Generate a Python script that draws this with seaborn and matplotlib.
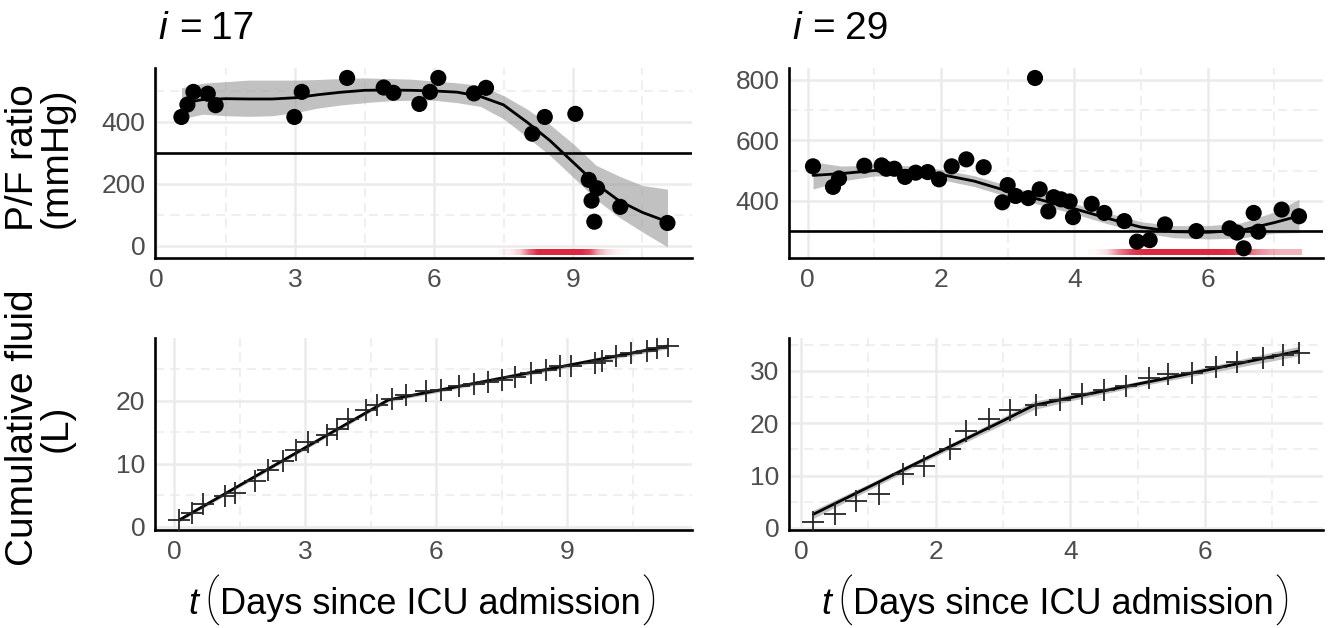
import numpy as np
import pandas as pd
import matplotlib
matplotlib.use("Agg")
import matplotlib.pyplot as plt
from matplotlib.ticker import MultipleLocator
import matplotlib.colors as mcolors
import seaborn as sns

# ---------------- patient i = 17 ----------------
pf17_t = [0.54, 0.67, 0.80, 1.11, 1.28, 2.98, 3.14, 4.12, 4.91, 5.12, 5.68, 5.91,
          6.09, 6.86, 7.12, 8.12, 8.39, 9.05, 9.34, 9.52, 9.40, 9.46, 10.02, 11.04]
pf17_v = [416, 456, 497, 491, 454, 416, 497, 542, 511, 494, 458, 497,
          542, 492, 510, 362, 416, 426, 213, 186, 146, 78, 126, 74]

fit17_t = [0.54, 1.0, 1.5, 2.0, 2.5, 3.0, 3.5, 4.0, 4.5, 5.0, 5.5, 6.0, 6.5,
           7.0, 7.5, 8.0, 8.5, 9.0, 9.5, 10.0, 10.5, 11.04]
fit17_v = [460, 472, 475, 474, 474, 478, 488, 496, 502, 503, 502, 500, 496,
           482, 455, 400, 340, 270, 200, 145, 108, 78]
fit17_lo = [410, 425, 420, 418, 420, 430, 445, 455, 462, 468, 470, 470, 462,
            450, 410, 352, 292, 222, 150, 92, 45, -3]
fit17_hi = [510, 525, 530, 535, 535, 535, 537, 540, 542, 540, 538, 532, 526,
            518, 485, 442, 392, 330, 260, 225, 195, 183]

red17_t = [7.4, 7.6, 7.8, 8.0, 8.2, 8.4, 8.6, 8.8, 9.0, 9.2, 9.4, 9.6, 9.8, 10.0, 10.2]
red17_a = [0.05, 0.1, 0.25, 0.7, 1, 1, 1, 1, 1, 1, 0.85, 0.4, 0.18, 0.08, 0.03]

fl17_t = [0.12, 0.41, 0.66, 1.16, 1.39, 1.84, 2.14, 2.49, 2.78, 3.07, 3.49, 3.73,
          3.98, 4.40, 4.65, 4.98, 5.31, 5.77, 6.10, 6.51, 6.85, 7.18, 7.51, 7.80,
          8.17, 8.51, 8.84, 9.09, 9.63, 9.79, 10.12, 10.46, 10.83, 11.04, 11.29]
fl17_v = [1.1, 2.2, 3.6, 4.9, 5.4, 7.3, 9.0, 10.5, 12.1, 13.4, 14.5, 15.5,
          17.0, 18.5, 19.3, 20.3, 20.9, 21.5, 21.6, 22.3, 22.6, 23.0, 23.2, 23.8,
          24.3, 24.8, 25.4, 25.5, 25.9, 26.2, 27.0, 27.5, 27.9, 28.3, 28.6]
flfit17_t = [0.12, 4.9, 11.29]
flfit17_v = [1.1, 20.1, 28.6]
flfit17_lo = [0.8, 19.8, 28.2]
flfit17_hi = [1.4, 20.4, 29.0]

# ---------------- patient i = 29 ----------------
pf29_t = [0.08, 0.38, 0.47, 0.85, 1.11, 1.18, 1.30, 1.46, 1.62, 1.80, 1.97, 2.16,
          2.38, 2.64, 2.92, 3.00, 3.12, 3.31, 3.41, 3.48, 3.61, 3.69, 3.80, 3.93,
          3.98, 4.26, 4.45, 4.75, 4.94, 5.13, 5.36, 5.83, 6.33, 6.44, 6.54, 6.69,
          6.76, 7.11, 7.37]
pf29_v = [514, 446, 474, 516, 517, 506, 506, 479, 493, 495, 471, 514,
          537, 511, 395, 452, 416, 409, 806, 438, 365, 412, 405, 398,
          346, 390, 360, 333, 265, 270, 322, 300, 309, 295, 243, 360,
          298, 371, 349]

fit29_t = [0.08, 0.5, 1.0, 1.5, 2.0, 2.5, 3.0, 3.5, 4.0, 4.5, 5.0, 5.5, 6.0, 6.5, 7.0, 7.37]
fit29_v = [484, 490, 500, 500, 487, 465, 432, 403, 374, 342, 313, 298, 296, 302, 328, 350]
fit29_lo = [439, 465, 482, 484, 470, 447, 414, 386, 357, 324, 295, 278, 274, 277, 293, 295]
fit29_hi = [529, 515, 518, 516, 504, 483, 450, 420, 391, 360, 331, 318, 318, 327, 363, 405]

red29_t = [4.2, 4.4, 4.6, 4.8, 5.0, 5.2, 5.4, 5.6, 5.8, 6.0, 6.2, 6.4, 6.6, 6.8, 7.0, 7.2, 7.4]
red29_a = [0.03, 0.15, 0.6, 0.9, 1, 1, 1, 1, 1, 1, 1, 0.95, 0.8, 0.55, 0.4, 0.35, 0.35]

fl29_t = [0.18, 0.51, 0.82, 1.15, 1.52, 1.83, 2.21, 2.45, 2.79, 3.10, 3.49, 3.85,
          4.17, 4.50, 4.82, 5.17, 5.45, 5.81, 6.16, 6.48, 6.86, 7.15, 7.39]
fl29_v = [1.2, 2.7, 5.1, 6.5, 10.3, 11.8, 15.1, 18.5, 20.9, 22.6, 23.5, 24.5,
          25.6, 26.3, 27.1, 28.6, 29.5, 29.7, 30.8, 31.7, 32.5, 33.1, 33.4]
flfit29_t = [0.18, 1.0, 2.0, 3.0, 3.45, 4.0, 5.0, 6.0, 7.39]
flfit29_v = [2.6, 7.8, 14.2, 20.5, 23.4, 24.9, 27.5, 30.1, 33.8]
flfit29_lo = [1.8, 7.2, 13.7, 19.8, 22.6, 24.3, 27.0, 29.5, 32.9]
flfit29_hi = [3.4, 8.4, 14.7, 21.2, 24.2, 25.5, 28.0, 30.7, 34.7]

THRESH = 300
RED = "#DC2840"
GRID = "#EBEBEB"


def style_axis(ax, xmaj, ymaj, xlim, ylim):
    ax.set_xlim(*xlim)
    ax.set_ylim(*ylim)
    ax.xaxis.set_major_locator(MultipleLocator(xmaj))
    ax.xaxis.set_minor_locator(MultipleLocator(xmaj / 2))
    ax.yaxis.set_major_locator(MultipleLocator(ymaj))
    ax.yaxis.set_minor_locator(MultipleLocator(ymaj / 2))
    ax.set_axisbelow(True)
    ax.grid(which="major", color=GRID, lw=1.8)
    ax.grid(which="minor", color=GRID, lw=1.1, ls=(0, (6, 4)))
    for s in ["top", "right"]:
        ax.spines[s].set_visible(False)
    for s in ["left", "bottom"]:
        ax.spines[s].set_color("black")
        ax.spines[s].set_linewidth(1.9)
    ax.tick_params(which="major", length=4, width=1.4, color="#333333",
                   labelsize=19, labelcolor="#4D4D4D", pad=3)
    ax.tick_params(which="minor", length=0)
    ax.set_xlabel("")
    ax.set_ylabel("")


def red_strip(ax, knots, alpha, y0, y1):
    rgba = np.zeros((1, len(knots), 4))
    rgba[..., :3] = mcolors.to_rgb(RED)
    rgba[0, :, 3] = alpha
    ax.imshow(rgba, extent=[knots[0], knots[-1], y0, y1], aspect="auto",
              interpolation="bilinear", origin="lower", zorder=2)


def pf_panel(ax, t, v, ft, fv, flo, fhi, rt, ra, ry, xmaj, xlim, ylim):
    ax.fill_between(ft, flo, fhi, color="#999999", alpha=0.6, lw=0, zorder=2)
    sns.lineplot(x=ft, y=fv, ax=ax, color="black", lw=2.0, zorder=3)
    ax.axhline(THRESH, color="black", lw=1.9, zorder=3)
    red_strip(ax, rt, ra, *ry)
    sns.scatterplot(x=t, y=v, ax=ax, color="black", s=135, edgecolor="none",
                    zorder=4)
    style_axis(ax, xmaj, 200, xlim, ylim)


def fluid_panel(ax, t, v, ft, fv, flo, fhi, xmaj, xlim, ylim):
    ax.fill_between(ft, flo, fhi, color="#999999", alpha=0.6, lw=0, zorder=2)
    sns.lineplot(x=ft, y=fv, ax=ax, color="black", lw=2.0, zorder=3)
    sns.scatterplot(x=t, y=v, ax=ax, color="#262626", marker="+", s=250,
                    linewidth=1.3, zorder=4)
    style_axis(ax, xmaj, 10, xlim, ylim)


def row_of_texts(fig, x0, yb, W, parts, gaps, center=True):
    """ places text pieces side by side on one baseline """
    texts = [fig.text(0, yb, s, ha="left", va="baseline", color="black", **kw)
             for s, kw in parts]
    renderer = fig.canvas.get_renderer()
    widths = [t.get_window_extent(renderer).width for t in texts]
    total = sum(widths) + sum(gaps[:-1])
    x = x0 - total / 2 if center else x0
    for t, w, g in zip(texts, widths, gaps):
        t.set_x(x / W)
        x += w + g


def main():
    sns.set_theme(style="white")
    plt.rcParams["font.family"] = ["Liberation Sans", "DejaVu Sans"]
    plt.rcParams["text.color"] = "black"

    W, H = 1333, 628
    fig = plt.figure(figsize=(W / 100, H / 100), dpi=100)
    fig.patch.set_facecolor("white")

    def box(l, t, r, b):
        return [l / W, 1 - b / H, (r - l) / W, (b - t) / H]

    ax_tl = fig.add_axes(box(155, 68, 692, 258))
    ax_tr = fig.add_axes(box(789, 68, 1323, 258))
    ax_bl = fig.add_axes(box(155, 338, 692, 530))
    ax_br = fig.add_axes(box(789, 338, 1323, 530))

    pf_panel(ax_tl, pf17_t, pf17_v, fit17_t, fit17_v, fit17_lo, fit17_hi,
             red17_t, red17_a, (-29, -11), 3, (-0.03, 11.57), (-39, 574))
    pf_panel(ax_tr, pf29_t, pf29_v, fit29_t, fit29_v, fit29_lo, fit29_hi,
             red29_t, red29_a, (221, 239), 2, (-0.28, 7.73), (211, 839))
    fluid_panel(ax_bl, fl17_t, fl17_v, flfit17_t, flfit17_v, flfit17_lo,
                flfit17_hi, 3, (-0.44, 11.85), (-0.5, 29.9))
    fluid_panel(ax_br, fl29_t, fl29_v, flfit29_t, flfit29_v, flfit29_lo,
                flfit29_hi, 2, (-0.18, 7.75), (-0.4, 36.3))

    # panel titles: italic i, wide spacing round the equals sign
    for x0, num in [(158, "17"), (792, "29")]:
        row_of_texts(fig, x0, 1 - 39 / H, W,
                     [("i", dict(fontsize=28, style="italic")),
                      ("=", dict(fontsize=28)),
                      (num, dict(fontsize=28))],
                     [12, 10, 0], center=False)

    # y labels
    fig.text(40 / W, 1 - 158 / H, "P/F ratio\n(mmHg)", rotation=90,
             ha="center", va="center", multialignment="center", fontsize=28,
             linespacing=0.92)
    fig.text(40 / W, 1 - 428 / H, "Cumulative fluid\n(L)", rotation=90,
             ha="center", va="center", multialignment="center", fontsize=28,
             linespacing=0.92)

    # x labels: t ( Days since ICU admission ) with tall thin parentheses
    paren = dict(fontsize=36, family=["Roboto", "Liberation Sans"], weight="light")
    xparts = [
        ("t", dict(fontsize=26, style="italic")),
        ("(", paren),
        ("Days since ICU admission", dict(fontsize=26)),
        (")", paren),
    ]
    for xc in [423, 1056]:
        row_of_texts(fig, xc, 1 - 614 / H, W, xparts, [6, 1, 2, 0])

    fig.savefig("out.png", dpi=100, facecolor="white")
    plt.close(fig)


if __name__ == "__main__":
    main()
